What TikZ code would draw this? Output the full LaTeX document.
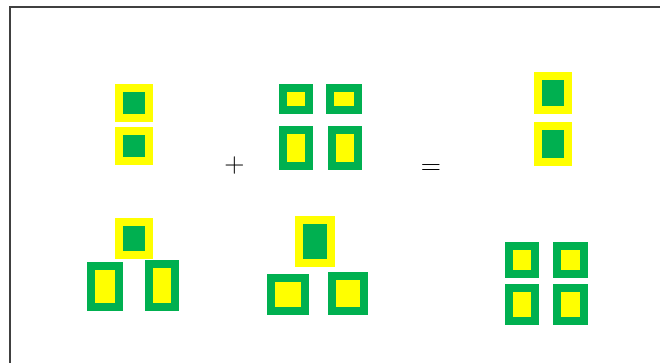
\documentclass[tikz,border=0pt]{standalone}
\usepackage{tikz}
\definecolor{tilegreen}{HTML}{00B050}
\definecolor{tileyellow}{HTML}{FFFF00}
\definecolor{framegray}{HTML}{404040}

\begin{document}
\begin{tikzpicture}[x=1pt,y=-1pt,
  gtile/.style={draw=tileyellow,fill=tilegreen,line width=8pt,inner sep=0pt},
  ytile/.style={draw=tilegreen,fill=tileyellow,line width=8pt,inner sep=0pt},
  sym/.style={anchor=base,inner sep=0pt,font=\fontsize{28}{30}\selectfont}]
  \useasboundingbox (0,0) rectangle (660,363);
  \draw[framegray,line width=2pt] (9.5,363) -- (9.5,7) -- (660,7);
  % first column
  \node[gtile,minimum width=30pt,minimum height=30pt] (a1) at (134.3,103.2) {};
  \node[gtile,minimum width=30pt,minimum height=30pt] (a2) at (134.3,145.7) {};
  \node[gtile,minimum width=30pt,minimum height=33pt] (d1) at (134,238.7) {};
  \node[ytile,minimum width=28pt,minimum height=41pt] (d2) at (104.8,286.3) {};
  \node[ytile,minimum width=26pt,minimum height=43pt] (d3) at (162.2,285.3) {};
  % second column
  \node[ytile,minimum width=26pt,minimum height=22pt] (b1) at (296.3,99) {};
  \node[ytile,minimum width=28pt,minimum height=22pt] (b2) at (343.7,99) {};
  \node[ytile,minimum width=26pt,minimum height=36pt] (b3) at (296.3,148) {};
  \node[ytile,minimum width=26pt,minimum height=36pt] (b4) at (344.5,148) {};
  \node[gtile,minimum width=32pt,minimum height=43pt] (e1) at (315.3,241.3) {};
  \node[ytile,minimum width=34pt,minimum height=33pt] (e2) at (288.3,294.5) {};
  \node[ytile,minimum width=32pt,minimum height=35pt] (e3) at (347.5,293.5) {};
  % third column
  \node[gtile,minimum width=30pt,minimum height=34pt] (c1) at (552.7,93) {};
  \node[gtile,minimum width=30pt,minimum height=36pt] (c2) at (552.7,144) {};
  \node[ytile,minimum width=26pt,minimum height=28pt] (f1) at (522.2,260.3) {};
  \node[ytile,minimum width=27pt,minimum height=28pt] (f2) at (570.7,260.3) {};
  \node[ytile,minimum width=26pt,minimum height=33pt] (f3) at (522.2,304.7) {};
  \node[ytile,minimum width=27pt,minimum height=33pt] (f4) at (570.7,304.7) {};
  % operators
  \node[sym] (plus) at (234.5,173) {+};
  \node[sym] (eq) at (431,175) {=};
\end{tikzpicture}
\end{document}
